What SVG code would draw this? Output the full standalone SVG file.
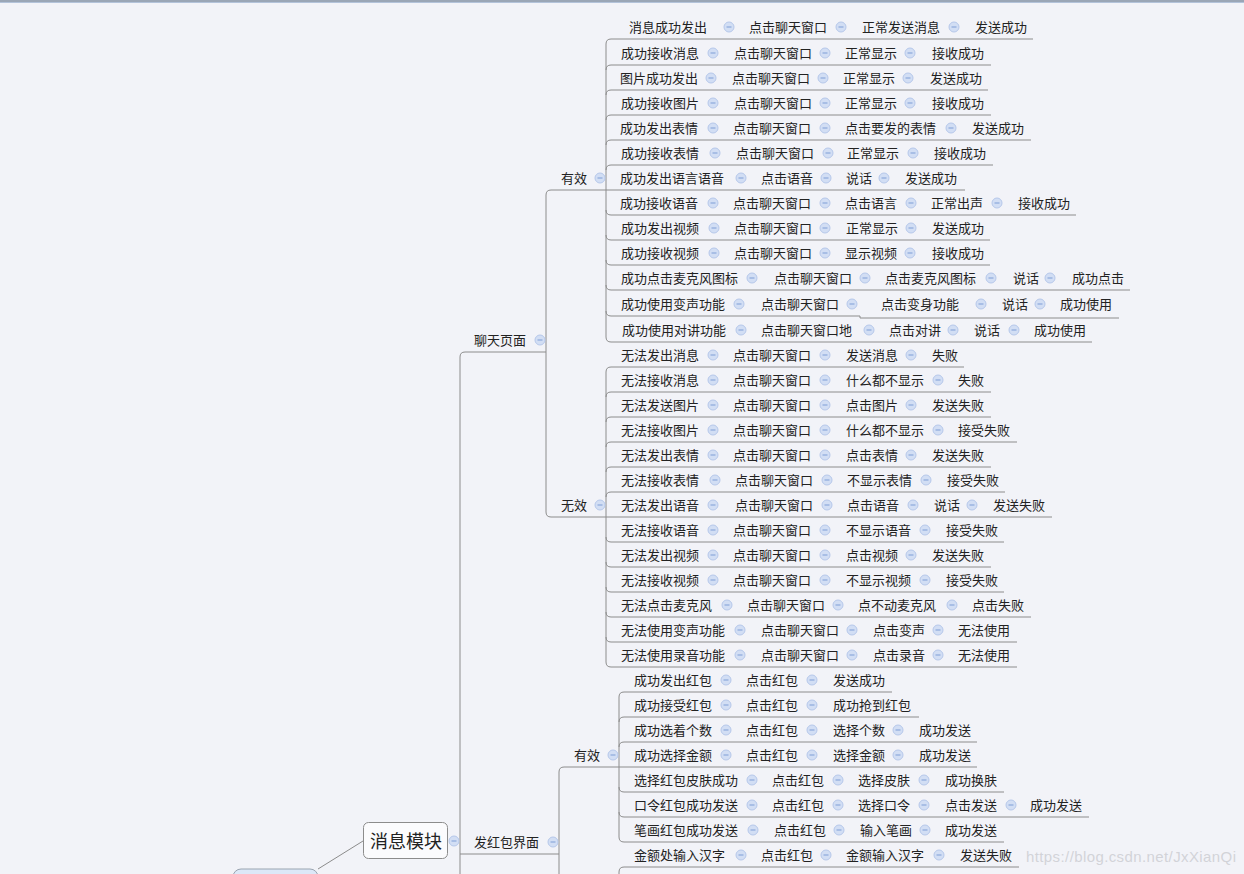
<svg xmlns="http://www.w3.org/2000/svg" xmlns:xlink="http://www.w3.org/1999/xlink" width="1244" height="874" viewBox="0 0 1244 874">
<style>
.t{font-family:"Noto Sans CJK SC","Noto Sans",sans-serif;font-size:13px;fill:#222}
.big{font-family:"Noto Sans CJK SC","Noto Sans",sans-serif;font-size:18px;fill:#222}
.ln{fill:none;stroke:#8c8c8c;stroke-width:1}
.wm{font-family:"Liberation Sans",Arial,sans-serif;font-size:15px;fill:#d2d3d8}
</style>
<defs>
<g id="c"><circle r="5" fill="#d2def4" stroke="#b6c8ea" stroke-width="1"/><line x1="-2.5" x2="2.5" y1="0" y2="0" stroke="#7f9ed6" stroke-width="1"/></g>
</defs>
<rect width="1244" height="874" fill="#f2f3f8"/>
<rect width="1244" height="2" fill="#9aa6b6"/>
<rect y="2" width="1244" height="1" fill="#b3c3da"/>

<g id="connectors" class="ln">
<path d="M363,841 L318,869"/>
<path d="M460,357 V874"/>
<path d="M460,357 Q460,352 465,352 H546"/>
<path d="M460,854 H559"/>
<path d="M546,195 V512"/>
<path d="M546,195 Q546,190 551,190 H965"/>
<path d="M546,512 Q546,517 551,517 H1052"/>
<path d="M606,44 V337"/>
<path d="M606,44 Q606,39 611,39 H1033"/>
<path d="M606,70 Q606,65 611,65 H991"/>
<path d="M606,95 Q606,90 611,90 H988"/>
<path d="M606,120 Q606,115 611,115 H991"/>
<path d="M606,145 Q606,140 611,140 H1031"/>
<path d="M606,170 Q606,165 611,165 H993"/>
<path d="M606,210 Q606,215 611,215 H1076"/>
<path d="M606,235 Q606,240 611,240 H990"/>
<path d="M606,260 Q606,265 611,265 H990"/>
<path d="M606,285 Q606,290 611,290 H1130"/>
<path d="M606,311 Q606,316 611,316 H860 V318 H1119"/>
<path d="M606,337 Q606,342 611,342 H1092"/>
<path d="M606,372 V662"/>
<path d="M606,372 Q606,367 611,367 H964"/>
<path d="M606,397 Q606,392 611,392 H991"/>
<path d="M606,422 Q606,417 611,417 H991"/>
<path d="M606,447 Q606,442 611,442 H1017"/>
<path d="M606,472 Q606,467 611,467 H991"/>
<path d="M606,497 Q606,492 611,492 H1005"/>
<path d="M606,537 Q606,542 611,542 H1004"/>
<path d="M606,562 Q606,567 611,567 H991"/>
<path d="M606,587 Q606,592 611,592 H1004"/>
<path d="M606,612 Q606,617 611,617 H1031"/>
<path d="M606,637 Q606,642 611,642 H1017"/>
<path d="M606,662 Q606,667 611,667 H1017"/>
<path d="M559,772 V874"/>
<path d="M559,772 Q559,767 564,767 H977"/>
<path d="M619,697 V837"/>
<path d="M619,697 Q619,692 624,692 H892"/>
<path d="M619,722 Q619,717 624,717 H919"/>
<path d="M619,747 Q619,742 624,742 H977"/>
<path d="M619,787 Q619,792 624,792 H1004"/>
<path d="M619,812 Q619,817 624,817 H1089"/>
<path d="M619,837 Q619,842 624,842 H1004"/>
<path d="M619,874 V872 Q619,867 624,867 H1019"/>
</g>

<g id="root"><rect x="233" y="869" width="85" height="30" rx="8" fill="#dce8f8" stroke="#9aa4b0"/></g>
<g id="n-msg"><rect x="363.5" y="822.5" width="84" height="36" rx="5" fill="#fbfbfd" stroke="#8c8c8c"/><text class="big" x="370" y="848">消息模块</text><use href="#c" x="454" y="841"/></g>
<g id="n-chat"><text class="t" x="474" y="344.5">聊天页面</text><use href="#c" x="540" y="340"/></g>
<g id="n-chat-ok"><text class="t" x="561" y="182.5">有效</text><use href="#c" x="600" y="178"/></g>
<g id="n-chat-bad"><text class="t" x="561" y="509.5">无效</text><use href="#c" x="600" y="505"/></g>
<g id="n-hb"><text class="t" x="474" y="846.5">发红包界面</text><use href="#c" x="553" y="842"/></g>
<g id="n-hb-ok"><text class="t" x="574" y="759.5">有效</text><use href="#c" x="613" y="755"/></g>

<g id="r1"><text class="t" x="629" y="31.5">消息成功发出</text><use href="#c" x="729" y="27"/><text class="t" x="749" y="31.5">点击聊天窗口</text><use href="#c" x="841" y="27"/><text class="t" x="862" y="31.5">正常发送消息</text><use href="#c" x="954" y="27"/><text class="t" x="975" y="31.5">发送成功</text></g>
<g id="r2"><text class="t" x="621" y="57.5">成功接收消息</text><use href="#c" x="713" y="53"/><text class="t" x="734" y="57.5">点击聊天窗口</text><use href="#c" x="825" y="53"/><text class="t" x="845" y="57.5">正常显示</text><use href="#c" x="910" y="53"/><text class="t" x="932" y="57.5">接收成功</text></g>
<g id="r3"><text class="t" x="620" y="82.5">图片成功发出</text><use href="#c" x="711" y="78"/><text class="t" x="732" y="82.5">点击聊天窗口</text><use href="#c" x="823" y="78"/><text class="t" x="843" y="82.5">正常显示</text><use href="#c" x="908" y="78"/><text class="t" x="930" y="82.5">发送成功</text></g>
<g id="r4"><text class="t" x="621" y="107.5">成功接收图片</text><use href="#c" x="713" y="103"/><text class="t" x="734" y="107.5">点击聊天窗口</text><use href="#c" x="825" y="103"/><text class="t" x="845" y="107.5">正常显示</text><use href="#c" x="910" y="103"/><text class="t" x="932" y="107.5">接收成功</text></g>
<g id="r5"><text class="t" x="620" y="132.5">成功发出表情</text><use href="#c" x="713" y="128"/><text class="t" x="733" y="132.5">点击聊天窗口</text><use href="#c" x="825" y="128"/><text class="t" x="845" y="132.5">点击要发的表情</text><use href="#c" x="951" y="128"/><text class="t" x="972" y="132.5">发送成功</text></g>
<g id="r6"><text class="t" x="621" y="157.5">成功接收表情</text><use href="#c" x="715" y="153"/><text class="t" x="736" y="157.5">点击聊天窗口</text><use href="#c" x="828" y="153"/><text class="t" x="847" y="157.5">正常显示</text><use href="#c" x="913" y="153"/><text class="t" x="934" y="157.5">接收成功</text></g>
<g id="r7"><text class="t" x="620" y="182.5">成功发出语言语音</text><use href="#c" x="741" y="178"/><text class="t" x="761" y="182.5">点击语音</text><use href="#c" x="826" y="178"/><text class="t" x="846" y="182.5">说话</text><use href="#c" x="884" y="178"/><text class="t" x="905" y="182.5">发送成功</text></g>
<g id="r8"><text class="t" x="620" y="207.5">成功接收语音</text><use href="#c" x="713" y="203"/><text class="t" x="733" y="207.5">点击聊天窗口</text><use href="#c" x="825" y="203"/><text class="t" x="845" y="207.5">点击语言</text><use href="#c" x="911" y="203"/><text class="t" x="931" y="207.5">正常出声</text><use href="#c" x="997" y="203"/><text class="t" x="1018" y="207.5">接收成功</text></g>
<g id="r9"><text class="t" x="621" y="232.5">成功发出视频</text><use href="#c" x="714" y="228"/><text class="t" x="734" y="232.5">点击聊天窗口</text><use href="#c" x="825" y="228"/><text class="t" x="846" y="232.5">正常显示</text><use href="#c" x="911" y="228"/><text class="t" x="932" y="232.5">发送成功</text></g>
<g id="r10"><text class="t" x="621" y="257.5">成功接收视频</text><use href="#c" x="714" y="253"/><text class="t" x="734" y="257.5">点击聊天窗口</text><use href="#c" x="825" y="253"/><text class="t" x="845" y="257.5">显示视频</text><use href="#c" x="910" y="253"/><text class="t" x="932" y="257.5">接收成功</text></g>
<g id="r11"><text class="t" x="621" y="282.5">成功点击麦克风图标</text><use href="#c" x="752" y="278"/><text class="t" x="774" y="282.5">点击聊天窗口</text><use href="#c" x="865" y="278"/><text class="t" x="885" y="282.5">点击麦克风图标</text><use href="#c" x="991" y="278"/><text class="t" x="1013" y="282.5">说话</text><use href="#c" x="1050" y="278"/><text class="t" x="1072" y="282.5">成功点击</text></g>
<g id="r12"><text class="t" x="621" y="308.5">成功使用变声功能</text><use href="#c" x="739" y="304"/><text class="t" x="761" y="308.5">点击聊天窗口</text><use href="#c" x="852" y="304"/><text class="t" x="881" y="308.5">点击变身功能</text><use href="#c" x="981" y="304"/><text class="t" x="1002" y="308.5">说话</text><use href="#c" x="1040" y="304"/><text class="t" x="1060" y="308.5">成功使用</text></g>
<g id="r13"><text class="t" x="622" y="334.5">成功使用对讲功能</text><use href="#c" x="741" y="330"/><text class="t" x="761" y="334.5">点击聊天窗口地</text><use href="#c" x="869" y="330"/><text class="t" x="889" y="334.5">点击对讲</text><use href="#c" x="953" y="330"/><text class="t" x="974" y="334.5">说话</text><use href="#c" x="1014" y="330"/><text class="t" x="1034" y="334.5">成功使用</text></g>

<g id="n1"><text class="t" x="621" y="359.5">无法发出消息</text><use href="#c" x="713" y="355"/><text class="t" x="733" y="359.5">点击聊天窗口</text><use href="#c" x="825" y="355"/><text class="t" x="846" y="359.5">发送消息</text><use href="#c" x="911" y="355"/><text class="t" x="932" y="359.5">失败</text></g>
<g id="n2"><text class="t" x="621" y="384.5">无法接收消息</text><use href="#c" x="713" y="380"/><text class="t" x="733" y="384.5">点击聊天窗口</text><use href="#c" x="825" y="380"/><text class="t" x="846" y="384.5">什么都不显示</text><use href="#c" x="938" y="380"/><text class="t" x="958" y="384.5">失败</text></g>
<g id="n3"><text class="t" x="621" y="409.5">无法发送图片</text><use href="#c" x="713" y="405"/><text class="t" x="733" y="409.5">点击聊天窗口</text><use href="#c" x="825" y="405"/><text class="t" x="846" y="409.5">点击图片</text><use href="#c" x="911" y="405"/><text class="t" x="932" y="409.5">发送失败</text></g>
<g id="n4"><text class="t" x="621" y="434.5">无法接收图片</text><use href="#c" x="713" y="430"/><text class="t" x="733" y="434.5">点击聊天窗口</text><use href="#c" x="825" y="430"/><text class="t" x="846" y="434.5">什么都不显示</text><use href="#c" x="938" y="430"/><text class="t" x="958" y="434.5">接受失败</text></g>
<g id="n5"><text class="t" x="621" y="459.5">无法发出表情</text><use href="#c" x="713" y="455"/><text class="t" x="733" y="459.5">点击聊天窗口</text><use href="#c" x="825" y="455"/><text class="t" x="846" y="459.5">点击表情</text><use href="#c" x="911" y="455"/><text class="t" x="932" y="459.5">发送失败</text></g>
<g id="n6"><text class="t" x="621" y="484.5">无法接收表情</text><use href="#c" x="715" y="480"/><text class="t" x="735" y="484.5">点击聊天窗口</text><use href="#c" x="827" y="480"/><text class="t" x="847" y="484.5">不显示表情</text><use href="#c" x="926" y="480"/><text class="t" x="947" y="484.5">接受失败</text></g>
<g id="n7"><text class="t" x="621" y="509.5">无法发出语音</text><use href="#c" x="713" y="505"/><text class="t" x="735" y="509.5">点击聊天窗口</text><use href="#c" x="827" y="505"/><text class="t" x="847" y="509.5">点击语音</text><use href="#c" x="913" y="505"/><text class="t" x="934" y="509.5">说话</text><use href="#c" x="972" y="505"/><text class="t" x="993" y="509.5">发送失败</text></g>
<g id="n8"><text class="t" x="621" y="534.5">无法接收语音</text><use href="#c" x="713" y="530"/><text class="t" x="733" y="534.5">点击聊天窗口</text><use href="#c" x="825" y="530"/><text class="t" x="846" y="534.5">不显示语音</text><use href="#c" x="925" y="530"/><text class="t" x="946" y="534.5">接受失败</text></g>
<g id="n9"><text class="t" x="621" y="559.5">无法发出视频</text><use href="#c" x="713" y="555"/><text class="t" x="733" y="559.5">点击聊天窗口</text><use href="#c" x="825" y="555"/><text class="t" x="846" y="559.5">点击视频</text><use href="#c" x="911" y="555"/><text class="t" x="932" y="559.5">发送失败</text></g>
<g id="n10"><text class="t" x="621" y="584.5">无法接收视频</text><use href="#c" x="713" y="580"/><text class="t" x="733" y="584.5">点击聊天窗口</text><use href="#c" x="825" y="580"/><text class="t" x="846" y="584.5">不显示视频</text><use href="#c" x="925" y="580"/><text class="t" x="946" y="584.5">接受失败</text></g>
<g id="n11"><text class="t" x="621" y="609.5">无法点击麦克风</text><use href="#c" x="727" y="605"/><text class="t" x="747" y="609.5">点击聊天窗口</text><use href="#c" x="838" y="605"/><text class="t" x="858" y="609.5">点不动麦克风</text><use href="#c" x="952" y="605"/><text class="t" x="972" y="609.5">点击失败</text></g>
<g id="n12"><text class="t" x="621" y="634.5">无法使用变声功能</text><use href="#c" x="740" y="630"/><text class="t" x="761" y="634.5">点击聊天窗口</text><use href="#c" x="852" y="630"/><text class="t" x="873" y="634.5">点击变声</text><use href="#c" x="938" y="630"/><text class="t" x="958" y="634.5">无法使用</text></g>
<g id="n13"><text class="t" x="621" y="659.5">无法使用录音功能</text><use href="#c" x="740" y="655"/><text class="t" x="761" y="659.5">点击聊天窗口</text><use href="#c" x="852" y="655"/><text class="t" x="873" y="659.5">点击录音</text><use href="#c" x="938" y="655"/><text class="t" x="958" y="659.5">无法使用</text></g>

<g id="h1"><text class="t" x="634" y="684.5">成功发出红包</text><use href="#c" x="726" y="680"/><text class="t" x="746" y="684.5">点击红包</text><use href="#c" x="812" y="680"/><text class="t" x="833" y="684.5">发送成功</text></g>
<g id="h2"><text class="t" x="634" y="709.5">成功接受红包</text><use href="#c" x="726" y="705"/><text class="t" x="746" y="709.5">点击红包</text><use href="#c" x="812" y="705"/><text class="t" x="833" y="709.5">成功抢到红包</text></g>
<g id="h3"><text class="t" x="634" y="734.5">成功选着个数</text><use href="#c" x="726" y="730"/><text class="t" x="746" y="734.5">点击红包</text><use href="#c" x="812" y="730"/><text class="t" x="833" y="734.5">选择个数</text><use href="#c" x="898" y="730"/><text class="t" x="919" y="734.5">成功发送</text></g>
<g id="h4"><text class="t" x="634" y="759.5">成功选择金额</text><use href="#c" x="726" y="755"/><text class="t" x="746" y="759.5">点击红包</text><use href="#c" x="812" y="755"/><text class="t" x="833" y="759.5">选择金额</text><use href="#c" x="898" y="755"/><text class="t" x="919" y="759.5">成功发送</text></g>
<g id="h5"><text class="t" x="634" y="784.5">选择红包皮肤成功</text><use href="#c" x="752" y="780"/><text class="t" x="772" y="784.5">点击红包</text><use href="#c" x="838" y="780"/><text class="t" x="858" y="784.5">选择皮肤</text><use href="#c" x="924" y="780"/><text class="t" x="945" y="784.5">成功换肤</text></g>
<g id="h6"><text class="t" x="634" y="809.5">口令红包成功发送</text><use href="#c" x="752" y="805"/><text class="t" x="772" y="809.5">点击红包</text><use href="#c" x="838" y="805"/><text class="t" x="858" y="809.5">选择口令</text><use href="#c" x="924" y="805"/><text class="t" x="945" y="809.5">点击发送</text><use href="#c" x="1011" y="805"/><text class="t" x="1030" y="809.5">成功发送</text></g>
<g id="h7"><text class="t" x="634" y="834.5">笔画红包成功发送</text><use href="#c" x="753" y="830"/><text class="t" x="774" y="834.5">点击红包</text><use href="#c" x="839" y="830"/><text class="t" x="860" y="834.5">输入笔画</text><use href="#c" x="925" y="830"/><text class="t" x="945" y="834.5">成功发送</text></g>
<g id="h8"><text class="t" x="634" y="859.5">金额处输入汉字</text><use href="#c" x="741" y="855"/><text class="t" x="761" y="859.5">点击红包</text><use href="#c" x="826" y="855"/><text class="t" x="846" y="859.5">金额输入汉字</text><use href="#c" x="939" y="855"/><text class="t" x="960" y="859.5">发送失败</text></g>

<text class="wm" x="1026" y="862" textLength="210">https://blog.csdn.net/JxXianQi</text>
</svg>
